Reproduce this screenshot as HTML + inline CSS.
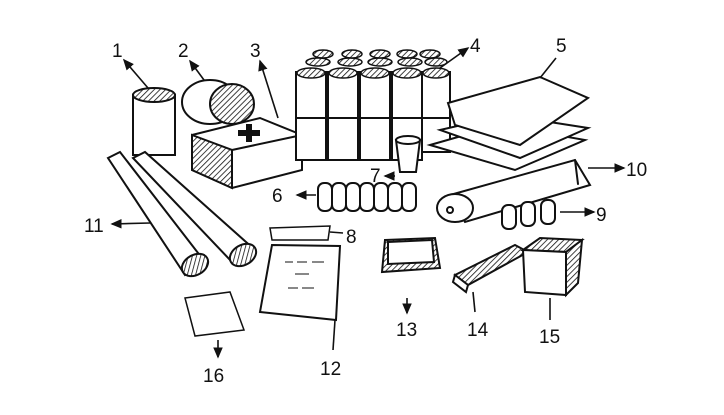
<!DOCTYPE html>
<html><head><meta charset="utf-8"><style>
html,body{margin:0;padding:0;background:#fff;width:724px;height:415px;overflow:hidden}
svg{display:block}
text{font-family:"Liberation Sans",sans-serif;font-size:19px;fill:#111}
</style></head><body>
<svg width="724" height="415" viewBox="0 0 724 415" xmlns="http://www.w3.org/2000/svg">
<defs>
<marker id="a" markerWidth="8" markerHeight="8" refX="6" refY="4" orient="auto"><path d="M0,1 L7,4 L0,7z" fill="#111"/></marker>
<pattern id="h" width="4" height="4" patternUnits="userSpaceOnUse" patternTransform="rotate(45)"><rect width="4" height="4" fill="#fff"/><line x1="0" y1="0" x2="0" y2="4" stroke="#111" stroke-width="1.6"/></pattern>
</defs>
<g stroke="#111" stroke-width="2" fill="#fff" stroke-linecap="round">
<rect x="133" y="95" width="42" height="60" fill="#fff"/>
<ellipse cx="154" cy="95" rx="21" ry="7" fill="url(#h)"/>
<ellipse cx="210" cy="102" rx="28" ry="22" fill="#fff"/>
<ellipse cx="232" cy="104" rx="22" ry="20" fill="url(#h)"/>
<path d="M192,135 L260,118 L302,135 L302,170 L232,188 L192,170z" fill="#fff"/>
<path d="M192,135 L232,150 L232,188 L192,170z" fill="url(#h)"/>
<path d="M232,150 L302,135" />
<path d="M238,130 h8 v-6 h6 v6 h8 v6 h-8 v6 h-6 v-6 h-8z" fill="#111" stroke="none"/>
<g fill="#fff">
<rect x="296" y="72" width="30" height="88"/><rect x="328" y="72" width="30" height="88"/><rect x="360" y="72" width="30" height="88"/><rect x="392" y="72" width="30" height="88"/><rect x="422" y="72" width="28" height="80"/>
</g>
<g fill="url(#h)" stroke-width="1.5">
<ellipse cx="311" cy="73" rx="14" ry="5"/><ellipse cx="343" cy="73" rx="14" ry="5"/><ellipse cx="375" cy="73" rx="14" ry="5"/><ellipse cx="407" cy="73" rx="14" ry="5"/><ellipse cx="436" cy="73" rx="13" ry="5"/>
<ellipse cx="318" cy="62" rx="12" ry="4"/><ellipse cx="350" cy="62" rx="12" ry="4"/><ellipse cx="380" cy="62" rx="12" ry="4"/><ellipse cx="410" cy="62" rx="12" ry="4"/><ellipse cx="436" cy="62" rx="11" ry="4"/>
<ellipse cx="323" cy="54" rx="10" ry="4"/><ellipse cx="352" cy="54" rx="10" ry="4"/><ellipse cx="380" cy="54" rx="10" ry="4"/><ellipse cx="407" cy="54" rx="10" ry="4"/><ellipse cx="430" cy="54" rx="10" ry="4"/>
</g>
<line x1="296" y1="118" x2="450" y2="118"/>
<path d="M396,140 L420,140 L416,172 L400,172z" fill="#fff"/>
<ellipse cx="408" cy="140" rx="12" ry="4" fill="#fff"/>
<path d="M430,145 L500,125 L585,140 L515,170z" fill="#fff"/>
<path d="M440,130 L505,115 L588,128 L520,158z" fill="#fff"/>
<path d="M448,103 L540,77 L588,98 L520,145 L455,125z" fill="#fff"/>
<path d="M450,195 L575,160 L590,185 L465,222z" fill="#fff"/>
<ellipse cx="455" cy="208" rx="18" ry="14" fill="#fff"/>
<circle cx="450" cy="210" r="3" fill="#fff"/>
<line x1="575" y1="160" x2="578" y2="184"/>
<g fill="#fff"><rect x="502" y="205" width="14" height="24" rx="6"/><rect x="521" y="202" width="14" height="24" rx="6"/><rect x="541" y="200" width="14" height="24" rx="6"/></g>
<g fill="#fff">
<rect x="318" y="183" width="14" height="28" rx="6"/><rect x="332" y="183" width="14" height="28" rx="6"/><rect x="346" y="183" width="14" height="28" rx="6"/><rect x="360" y="183" width="14" height="28" rx="6"/><rect x="374" y="183" width="14" height="28" rx="6"/><rect x="388" y="183" width="14" height="28" rx="6"/><rect x="402" y="183" width="14" height="28" rx="6"/>
</g>
<path d="M108,158 L120,152 L205,262 L185,275z" fill="#fff"/>
<ellipse cx="195" cy="265" rx="14" ry="10" fill="url(#h)" transform="rotate(-30 195 265)"/>
<path d="M133,158 L145,152 L255,250 L232,262z" fill="#fff"/>
<ellipse cx="243" cy="255" rx="14" ry="10" fill="url(#h)" transform="rotate(-30 243 255)"/>
<path d="M270,228 L330,226 L328,240 L272,240z" fill="#fff" stroke-width="1.5"/>
<path d="M272,245 L340,246 L336,320 L260,312z" fill="#fff"/>
<path d="M385,240 L435,238 L440,268 L382,272z" fill="url(#h)"/>
<path d="M388,242 L432,240 L434,262 L388,264z" fill="#fff"/>
<path d="M455,275 L515,245 L528,252 L468,285z" fill="url(#h)"/>
<path d="M455,275 L468,285 L466,292 L453,282z" fill="#fff"/>
<path d="M523,250 L540,238 L582,240 L566,252z" fill="url(#h)"/>
<path d="M523,250 L566,252 L566,295 L525,292z" fill="#fff"/>
<path d="M566,252 L582,240 L578,283 L566,295z" fill="url(#h)"/>
<path d="M185,298 L230,292 L244,330 L195,336z" fill="#fff" stroke-width="1.5"/>
</g>
<g stroke="#111" stroke-width="1" fill="none">
<path d="M285,262 h8 M297,262 h10 M312,262 h12 M295,274 h14 M288,288 h10 M302,288 h12"/>
</g>
<g stroke="#111" stroke-width="1.6" fill="none">
<line x1="148" y1="88" x2="124" y2="60" marker-end="url(#a)"/>
<line x1="204" y1="80" x2="190" y2="61" marker-end="url(#a)"/>
<line x1="278" y1="118" x2="260" y2="61" marker-end="url(#a)"/>
<line x1="440" y1="68" x2="468" y2="48" marker-end="url(#a)"/>
<line x1="540" y1="78" x2="556" y2="58"/>
<line x1="588" y1="168" x2="624" y2="168" marker-end="url(#a)"/>
<line x1="560" y1="212" x2="594" y2="212" marker-end="url(#a)"/>
<line x1="150" y1="223" x2="112" y2="224" marker-end="url(#a)"/>
<line x1="316" y1="195" x2="297" y2="195" marker-end="url(#a)"/>
<line x1="395" y1="176" x2="385" y2="176" marker-end="url(#a)"/>
<line x1="330" y1="232" x2="343" y2="233"/>
<line x1="335" y1="320" x2="333" y2="350"/>
<line x1="407" y1="298" x2="407" y2="313" marker-end="url(#a)"/>
<line x1="473" y1="292" x2="475" y2="312"/>
<line x1="550" y1="298" x2="550" y2="320"/>
<line x1="218" y1="340" x2="218" y2="357" marker-end="url(#a)"/>
</g>
<text x="112" y="57">1</text>
<text x="178" y="57">2</text>
<text x="250" y="57">3</text>
<text x="470" y="52">4</text>
<text x="556" y="52">5</text>
<text x="272" y="202">6</text>
<text x="370" y="182">7</text>
<text x="346" y="243">8</text>
<text x="596" y="221">9</text>
<text x="626" y="176">10</text>
<text x="84" y="232">11</text>
<text x="320" y="375">12</text>
<text x="396" y="336">13</text>
<text x="467" y="336">14</text>
<text x="539" y="343">15</text>
<text x="203" y="382">16</text>
</svg>
</body></html>
